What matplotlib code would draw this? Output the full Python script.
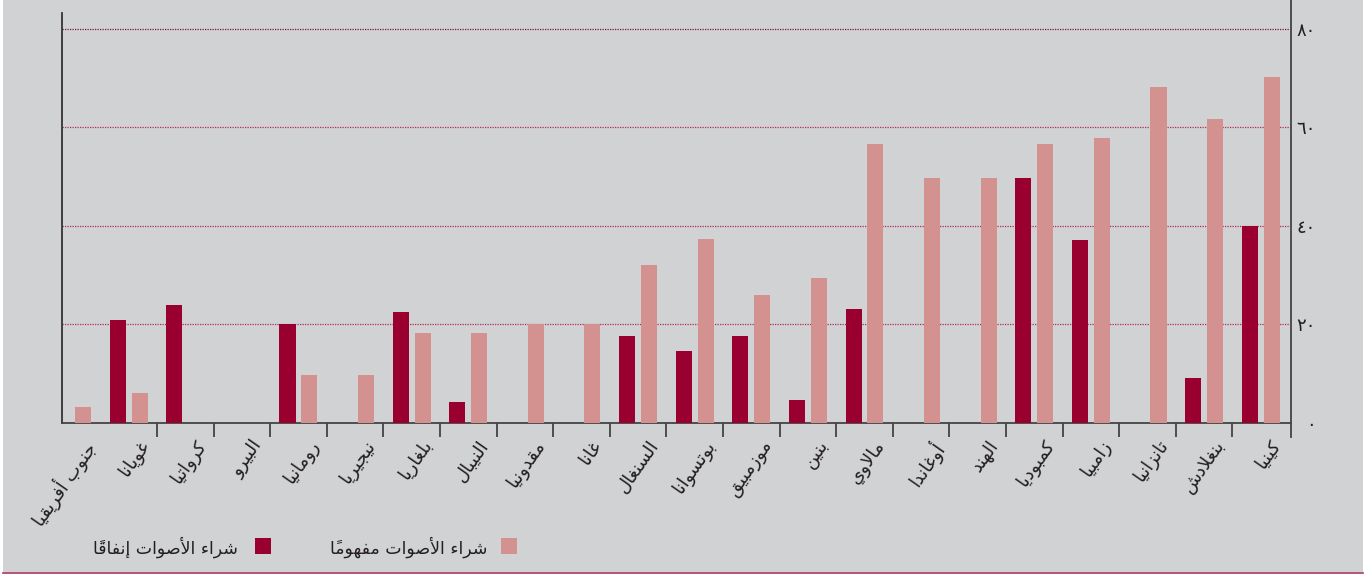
import matplotlib
matplotlib.use('Agg')
import matplotlib.pyplot as plt
from matplotlib.patches import Rectangle
from matplotlib.lines import Line2D
from matplotlib.transforms import ScaledTranslation
import numpy as np

# dados
paises = ['جنوب أفريقيا', 'غويانا', 'كرواتيا', 'البيرو', 'رومانيا', 'نيجيريا',
          'بلغاريا', 'النيبال', 'مقدونيا', 'غانا', 'السنغال', 'بوتسوانا',
          'موزمبيق', 'بنين', 'مالاوي', 'أوغاندا', 'الهند', 'كمبوديا', 'زامبيا',
          'تانزانيا', 'بنغلادش', 'كينيا']
gasto = [0, 20.9, 23.9, 0, 20.1, 0, 22.5, 4.2, 0, 0, 17.6, 14.6, 17.6, 4.6,
         23.1, 0, 0, 49.7, 37.1, 0, 9.1, 40.0]
entendido = [3.2, 6.0, 0, 0, 9.7, 9.7, 18.2, 18.2, 20.0, 20.0, 32.1, 37.3,
             26.0, 29.4, 56.6, 49.7, 49.7, 56.6, 57.9, 68.2, 61.7, 70.3]
y_ticks = [0, 20, 40, 60, 80]
y_labels = ['٠', '٢٠', '٤٠', '٦٠', '٨٠']
leg_gasto = 'شراء الأصوات إنفاقاً'
leg_entendido = 'شراء الأصوات مفهوماً'

# formas contextuais do arabe (matplotlib nao faz shaping)
AR = 'ءآأؤإئابةتثجحخدذرزسشصضطظعغفقكلمنهوىي'
NF = [1] + [2] * 4 + [4, 2, 4, 2] + [4] * 5 + [2] * 4 + [4] * 15 + [2, 2, 4]
FORMS = {}
cp = 0xFE80
for ch, n in zip(AR, NF):
    FORMS[ch] = (cp, n)
    cp += n
LAM_ALEF = {'آ': 0xFEF5, 'أ': 0xFEF7, 'إ': 0xFEF9, 'ا': 0xFEFB}


def shape(text):
    units = []
    i = 0
    while i < len(text):
        c = text[i]
        if c == 'ل' and i + 1 < len(text) and text[i + 1] in LAM_ALEF:
            units.append([LAM_ALEF[text[i + 1]], 'R'])
            i += 2
            continue
        if c in FORMS:
            base, n = FORMS[c]
            units.append([base, {4: 'D', 2: 'R', 1: 'U'}[n]])
        elif 0x064B <= ord(c) <= 0x0652:
            units.append([ord(c), 'T'])
        else:
            units.append([ord(c), 'X'])
        i += 1
    letters = [k for k, u in enumerate(units) if u[1] != 'T']
    out = {}
    for j, k in enumerate(letters):
        base, t = units[k]
        if t not in ('D', 'R'):
            out[k] = chr(base)
            continue
        prev = units[letters[j - 1]][1] if j > 0 else None
        nxt = units[letters[j + 1]][1] if j + 1 < len(letters) else None
        jp = prev == 'D'
        jn = t == 'D' and nxt in ('D', 'R')
        idx = {(False, False): 0, (True, False): 1, (False, True): 2, (True, True): 3}[(jp, jn)]
        out[k] = chr(base + idx)
    # agrupa letra + diacritico e inverte a ordem
    clusters = []
    for k, u in enumerate(units):
        if u[1] == 'T' and clusters:
            clusters[-1] += chr(u[0])
        else:
            clusters.append(out[k])
    return ''.join(clusters[::-1])


plt.rcParams['font.family'] = ['DejaVu Sans']
W, H = 1371, 574
fig = plt.figure(figsize=(W / 100, H / 100), dpi=100)
fig.patch.set_facecolor('white')

# fundo cinza e linha inferior
fig.patches.append(Rectangle((3 / W, 2 / H), 1360 / W, 1 - 2 / H, transform=fig.transFigure,
                             facecolor='#d1d2d4', edgecolor='none', zorder=-10))
fig.lines.append(Line2D([3 / W, 1363 / W], [1.2 / H, 1.2 / H], transform=fig.transFigure,
                        color='#a6395e', lw=1.2))

ax = fig.add_axes([62 / W, 151.3 / H, (1291 - 62) / W, (574 - 12.7 - 151.3) / H])
ax.patch.set_visible(False)

x = np.arange(len(paises))
larg = 0.283
desl = 0.194
ax.bar(x - desl, gasto, larg, color='#990030', zorder=3)
ax.bar(x + desl, entendido, larg, color='#d3928f', zorder=3)

ax.set_xlim(-0.178, 21.535)
ax.set_ylim(0, 83.33)

# linhas de grade pontilhadas
for v in y_ticks[1:]:
    cor = '#7a1535' if v == 80 else '#b42a55'
    ax.axhline(v, color=cor, lw=0.9, linestyle=(0, (1, 1)), zorder=1)

for s in ['top', 'right']:
    ax.spines[s].set_visible(False)
ax.spines['left'].set_color('#333333')
ax.spines['left'].set_linewidth(1.3)
ax.spines['bottom'].set_color('#444444')
ax.spines['bottom'].set_linewidth(1.3)

# eixo direito vai ate o topo da figura
fig.lines.append(Line2D([1291 / W, 1291 / W], [1 - 437 / H, 1], transform=fig.transFigure,
                        color='#444444', lw=1.3))

ax.yaxis.tick_right()
ax.set_yticks(y_ticks)
ax.set_yticklabels(y_labels, fontsize=13, color='#231f20', ha='right')
ax.tick_params(axis='y', length=0, pad=18)

ax.set_xticks(x[1:-1] + 0.5, minor=True)
ax.set_xticks([])
ax.tick_params(axis='x', which='minor', length=10, width=1.3, color='#444444')

off = ScaledTranslation(9 / 100, -14 / 100, fig.dpi_scale_trans)
for i, p in enumerate(paises):
    ax.text(i, 0, shape(p), transform=ax.get_xaxis_transform() + off,
            rotation=55, ha='right', va='top', rotation_mode='anchor',
            fontsize=13, color='#231f20')

# legenda manual (direita para esquerda)
fig.patches.append(Rectangle((255 / W, 1 - 554 / H), 16 / W, 16 / H, transform=fig.transFigure,
                             facecolor='#990030', edgecolor='none'))
fig.text(238 / W, 1 - 547 / H, shape(leg_gasto), ha='right', va='center',
         fontsize=12.5, color='#231f20')
fig.patches.append(Rectangle((501 / W, 1 - 554 / H), 16 / W, 16 / H, transform=fig.transFigure,
                             facecolor='#d3928f', edgecolor='none'))
fig.text(487 / W, 1 - 547 / H, shape(leg_entendido), ha='right', va='center',
         fontsize=12.5, color='#231f20')

fig.savefig('out.png', dpi=100)
